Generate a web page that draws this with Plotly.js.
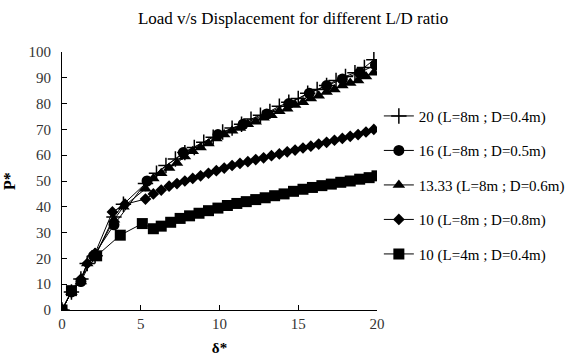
<!DOCTYPE html>
<html>
<head>
<meta charset="utf-8">
<script src="https://cdn.plot.ly/plotly-3.0.1.min.js"></script>
<style>html,body{margin:0;padding:0;background:#fff;}#chart{width:568px;height:356px;}</style>
</head>
<body>
<div id="chart"></div>
<script>
var seriesNames = ["20 (L=8m ; D=0.4m)", "16 (L=8m ; D=0.5m)", "13.33 (L=8m ; D=0.6m)", "10 (L=8m ; D=0.8m)", "10 (L=4m ; D=0.4m)"];

var x20 = [0, 0.6, 1.2, 1.6, 2.1, 3.3, 3.9, 5.3, 6.0, 6.6, 7.2, 7.8, 8.4, 9.0, 9.6, 10.2, 10.8, 11.4, 12.0, 12.6, 13.2, 13.8, 14.4, 15.0, 15.6, 16.2, 16.8, 17.4, 18.0, 18.6, 19.2, 19.8];
var y20 = [0, 7, 12, 18, 21, 36, 41, 49, 53, 56, 58.5, 61, 63, 65, 67, 69, 70.5, 72, 74, 75.5, 77, 79, 80.5, 82, 84, 85.5, 87, 89, 90.5, 92, 94, 97];

var x16 = [0, 0.6, 1.2, 2.0, 3.3, 5.4, 7.7, 9.9, 11.5, 13.0, 14.4, 15.7, 16.8, 17.8, 18.9, 19.9];
var y16 = [0, 7, 11, 21, 33, 50, 61, 68, 72, 76, 80, 84, 87, 89.5, 92, 95];

var x13 = [0, 0.6, 1.2, 1.6, 2.1, 3.3, 3.9, 5.3, 5.8, 6.3, 6.8, 7.3, 7.8, 8.3, 8.8, 9.3, 9.8, 10.3, 10.8, 11.3, 11.8, 12.3, 12.8, 13.3, 13.8, 14.3, 14.8, 15.3, 15.8, 16.3, 16.8, 17.3, 17.8, 18.3, 18.8, 19.3, 19.8];
var y13 = [0, 7, 11, 18, 21, 35, 40, 47, 51, 53, 55, 57, 59.5, 61.5, 63, 64.5, 66.5, 68, 69.5, 70.5, 72, 73, 74.5, 75.5, 77, 78, 79.5, 80.5, 82, 83, 84.5, 85.5, 87, 88, 89, 90.5, 92];

var x10a = [0, 0.6, 1.2, 1.6, 2.1, 3.2, 4.0, 5.3, 5.8, 6.3, 6.8, 7.3, 7.8, 8.3, 8.8, 9.3, 9.8, 10.3, 10.8, 11.3, 11.8, 12.3, 12.8, 13.3, 13.8, 14.3, 14.8, 15.3, 15.8, 16.3, 16.8, 17.3, 17.8, 18.3, 18.8, 19.3, 19.8];
var y10a = [0, 7, 12, 18, 22, 38, 41, 43, 45, 46.5, 48, 49, 50, 51, 52, 53, 54, 55, 56, 56.8, 57.5, 58.3, 59, 59.8, 60.5, 61.3, 62, 62.8, 63.5, 64.3, 65, 65.8, 66.5, 67.3, 68, 69, 70];

var x10b = [0, 0.6, 2.2, 3.7, 5.1, 5.8, 6.3, 6.9, 7.5, 8.1, 8.7, 9.3, 9.9, 10.5, 11.1, 11.7, 12.3, 12.9, 13.5, 14.1, 14.7, 15.3, 15.9, 16.5, 17.1, 17.7, 18.3, 18.9, 19.5, 20.0];
var y10b = [0, 7.5, 21, 29, 33.5, 31.5, 32.5, 34, 35.5, 36.5, 37.5, 38.5, 39.5, 40.5, 41.3, 42, 42.8, 43.5, 44.3, 45, 46, 46.8, 47.5, 48.2, 48.8, 49.5, 50, 50.7, 51.3, 52];

var xTicks = [0, 5, 10, 15, 20];
var yTicks = [0, 10, 20, 30, 40, 50, 60, 70, 80, 90, 100];

var xs = [x20, x16, x13, x10a, x10b];
var ys = [y20, y16, y13, y10a, y10b];
var symbols = ["cross-thin-open", "circle", "triangle-up", "diamond", "square"];
var sizes = [11, 11, 11, 9, 11];

var traces = [];
for (var i = 0; i < 5; i++) {
  traces.push({
    x: xs[i], y: ys[i], name: seriesNames[i], type: "scatter", mode: "lines+markers",
    legendgroup: "g" + i,
    line: {color: "#000", width: 1},
    marker: {symbol: symbols[i], size: sizes[i], color: "#000", line: {color: "#000", width: i === 0 ? 1.5 : 0}}
  });
}

var serif = "Liberation Serif";
var layout = {
  width: 568, height: 356,
  margin: {l: 62, r: 191, t: 52, b: 46},
  paper_bgcolor: "#fff", plot_bgcolor: "#fff",
  font: {family: serif, size: 15, color: "#000"},
  title: {text: "Load v/s Displacement for different L/D ratio", x: 0.516, xref: "container", xanchor: "center", y: 0.949, yref: "container", yanchor: "middle", font: {family: serif, size: 17, color: "#000"}},
  xaxis: {
    range: [0, 20], tickvals: xTicks, ticktext: xTicks.map(String),
    showgrid: false, zeroline: false, showline: true, linecolor: "#000", linewidth: 1,
    ticks: "inside", ticklen: 5, tickcolor: "#000",
    tickfont: {family: serif, size: 15, color: "#333"},
    title: {text: "<b>δ*</b>", standoff: 12, font: {family: serif, size: 15, color: "#000"}}
  },
  yaxis: {
    range: [0, 100], tickvals: yTicks, ticktext: yTicks.map(String),
    showgrid: false, zeroline: false, showline: true, linecolor: "#000", linewidth: 1,
    ticks: "inside", ticklen: 5, tickcolor: "#000", ticklabelstandoff: 7,
    tickfont: {family: serif, size: 15, color: "#333"},
    title: {text: "<b>P*</b>", standoff: 8, font: {family: serif, size: 16, color: "#000"}}
  },
  showlegend: true,
  legend: {xref: "container", yref: "container", x: 0.667, xanchor: "left", y: 0.72, yanchor: "top", traceorder: "grouped", tracegroupgap: 12,
    font: {family: serif, size: 15, color: "#000"}, bgcolor: "rgba(0,0,0,0)"}
};

Plotly.newPlot("chart", traces, layout, {staticPlot: true});
</script>
</body>
</html>
